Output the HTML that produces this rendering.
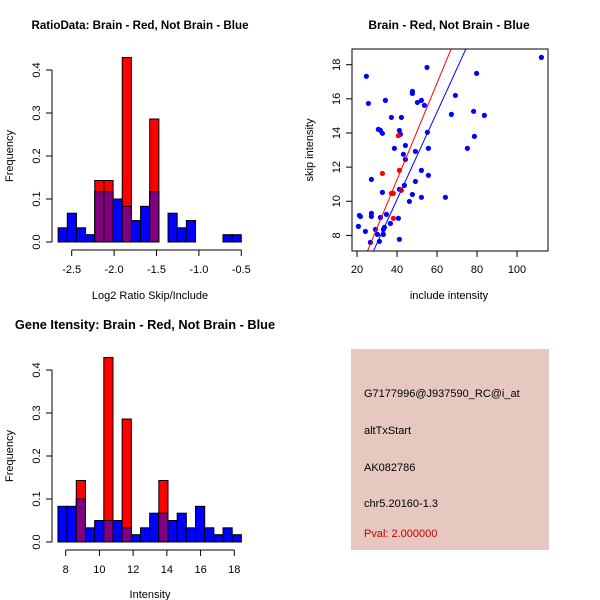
<!DOCTYPE html>
<html><head><meta charset="utf-8"><style>
body{margin:0;background:#fff;}
svg{display:block;font-family:"Liberation Sans",sans-serif;}
</style></head><body>
<svg id="c" width="600" height="600" xmlns="http://www.w3.org/2000/svg">
<rect width="600" height="600" fill="#fff"/>
<text x="140" y="29" font-size="11.6" font-weight="bold" text-anchor="middle">RatioData: Brain - Red, Not Brain - Blue</text>
<text x="449" y="29" font-size="12" font-weight="bold" text-anchor="middle">Brain - Red, Not Brain - Blue</text>
<text x="150" y="299" font-size="11" text-anchor="middle">Log2 Ratio Skip/Include</text>
<text x="449" y="299" font-size="11" text-anchor="middle">include intensity</text>
<text x="145" y="329" font-size="12.8" font-weight="bold" text-anchor="middle">Gene Itensity: Brain - Red, Not Brain - Blue</text>
<text x="150" y="598" font-size="11" text-anchor="middle">Intensity</text>
<text transform="translate(13,156) rotate(-90)" font-size="11" text-anchor="middle">Frequency</text>
<text transform="translate(13,456) rotate(-90)" font-size="11" text-anchor="middle">Frequency</text>
<text transform="translate(313,150) rotate(-90)" font-size="11" text-anchor="middle">skip intensity</text>
<g>
<rect x="351" y="349" width="198" height="201" fill="#e6c8c0"/>
<text x="364" y="397" font-size="11">G7177996@J937590_RC@i_at</text>
<text x="364" y="434" font-size="11">altTxStart</text>
<text x="364" y="471" font-size="11">AK082786</text>
<text x="364" y="507" font-size="11">chr5.20160-1.3</text>
<text x="364" y="537" font-size="11" fill="#c00000">Pval: 2.000000</text>
</g>
</svg>
<script>
const ratioBlue=[0.033,0.067,0.033,0.017,0.117,0.117,0.1,0.083,0.05,0.083,0.117,0,0.067,0.033,0.05,0,0,0,0.017,0.017];
const ratioRed=[0,0,0,0,0.143,0.143,0,0.429,0,0,0.286,0,0,0,0,0,0,0,0,0];
const ratioTicks=[-2.5,-2.0,-1.5,-1.0,-0.5];
const intBlue=[0.083,0.083,0.1,0.033,0.05,0.05,0.05,0.033,0.017,0.033,0.067,0.067,0.05,0.067,0.033,0.083,0.033,0.017,0.033,0.017];
const intRed=[0,0,0.143,0,0,0.429,0,0.286,0,0,0,0.143,0,0,0,0,0,0,0,0];
const intTicks=[8,10,12,14,16,18];
const freqTicks=[0,0.1,0.2,0.3,0.4];
const blueX=[112.2,55,24.7,79.8,25.7,34.2,47.7,47.7,50.2,52.2,53.7,69.2,67.2,78.3,83.7,37.2,42.2,30.7,31.7,32.7,41.2,41.7,55.2,78.7,38.7,44.2,43.2,49.2,55.7,75.2,44.2,52.2,55.7,27.2,49.2,43.7,41.2,32.7,47.7,52.2,64.2,46.2,21.2,21.7,27.2,27.2,31.7,34.7,40.7,36.7,33.7,33.2,29.2,20.7,24.2,30.2,33.2,31.2,26.7,41.2];
const blueY=[18.43,17.84,17.32,17.49,15.73,15.91,16.44,16.32,15.79,15.91,15.62,16.2,15.09,15.27,15.03,14.91,14.91,14.21,14.15,13.98,14.15,13.92,14.04,13.8,13.1,13.27,12.75,12.92,13.1,13.1,12.45,11.81,11.52,11.28,11.16,10.93,10.7,10.52,10.4,10.23,10.23,9.99,9.17,9.11,9.29,9.11,9.05,9.23,9.0,8.7,8.47,8.35,8.35,8.53,8.23,8.06,8.06,7.65,7.59,7.77];
const redX=[40.7,32.7,41.2,37.2,38.2,42.2,38.2];
const redY=[13.84,11.63,11.81,10.46,10.46,10.64,9.0];
const redFit=[-0.06,0.283];
const blueFit=[-0.14,0.256];
const scXTicks=[20,40,60,80,100];
const scYTicks=[8,10,12,14,16,18];

const svg=document.getElementById('c');
const NS='http://www.w3.org/2000/svg';
function mk(tag,at,parent){const e=document.createElementNS(NS,tag);for(const k in at)e.setAttribute(k,at[k]);(parent||svg).appendChild(e);return e;}

function hist(blue,red,ticks,dy,x0,pxPerUnit,tickVal0,binStart,binW,prefix){
  const g=mk('g',{});
  
  
  const y0=242+dy, yS=430;
  const yv=v=>y0-v*yS;
  const xv=v=>x0+(v-tickVal0)*pxPerUnit;
  for(let i=0;i<blue.length;i++){
    const xa=xv(binStart+i*binW), xb=xv(binStart+(i+1)*binW);
    if(blue[i]>0){const r=mk('rect',{x:xa,y:yv(blue[i]),width:xb-xa,height:blue[i]*yS,fill:'#0000ff',stroke:'#000','stroke-width':1},g);
      
      }
    if(red[i]>0){const r=mk('rect',{x:xa,y:yv(red[i]),width:xb-xa,height:red[i]*yS,fill:'#ff0000',stroke:'#000','stroke-width':1},g);
      
      
      const m=Math.min(red[i],blue[i]);
      if(m>0){const p=mk('rect',{x:xa,y:yv(m),width:xb-xa,height:m*yS,fill:'#800080',stroke:'#000','stroke-width':1},g);
        
        }}
  }
  const ya=mk('g',{},g);
  
  
  mk('line',{x1:52,x2:52,y1:yv(0),y2:yv(0.4),stroke:'#000'},ya);
  freqTicks.forEach(t=>{mk('line',{x1:46,x2:52,y1:yv(t),y2:yv(t),stroke:'#000'},ya);
    const tx=mk('text',{transform:`translate(40,${yv(t)}) rotate(-90)`,'font-size':11,'text-anchor':'middle'},ya);tx.textContent=t.toFixed(1);});
  const xa=mk('g',{},g);
  
  
  mk('line',{x1:xv(ticks[0]),x2:xv(ticks[ticks.length-1]),y1:y0+8,y2:y0+8,stroke:'#000'},xa);
  ticks.forEach(t=>{mk('line',{x1:xv(t),x2:xv(t),y1:y0+8,y2:y0+14,stroke:'#000'},xa);
    const tx=mk('text',{x:xv(t),y:y0+31,'font-size':11,'text-anchor':'middle'},xa);tx.textContent=(prefix==='ratio'?t.toFixed(1):t);});
}
hist(ratioBlue,ratioRed,ratioTicks,0,71.7,84.8,-2.5,-2.66,0.108,'ratio');
hist(intBlue,intRed,intTicks,300,65.7,16.86,8,7.54,0.544,'intensity');

const L=352,R=548,T=49,B=251;
const sx=v=>357+(v-20)*2, sy=v=>64.7+(18-v)*17.07;
const sg=mk('g',{});


const cp=mk('clipPath',{id:'clip'},sg);mk('rect',{x:L,y:T,width:R-L,height:B-T},cp);
blueX.forEach((x,i)=>{const c=mk('circle',{cx:sx(x),cy:sy(blueY[i]),r:2.6,fill:'#0000ff'},sg);
  
  });
redX.forEach((x,i)=>{const c=mk('circle',{cx:sx(x),cy:sy(redY[i]),r:2.6,fill:'#ff0000'},sg);
  
  });
[[redFit,'#ff0000','red-fit-line'],[blueFit,'#0000ff','blue-fit-line']].forEach(([f,col,nm])=>{
  const xa=0,xb=120;
  const l=mk('line',{x1:sx(xa),y1:sy(f[0]+f[1]*xa),x2:sx(xb),y2:sy(f[0]+f[1]*xb),stroke:col,'stroke-width':1,'clip-path':'url(#clip)'},sg);
  
  });
mk('rect',{x:L,y:T,width:R-L,height:B-T,fill:'none',stroke:'#000'},sg);
scXTicks.forEach(t=>{mk('line',{x1:sx(t),x2:sx(t),y1:B,y2:B+6,stroke:'#000'},sg);
  const tx=mk('text',{x:sx(t),y:B+22,'font-size':11,'text-anchor':'middle'},sg);tx.textContent=t;});
scYTicks.forEach(t=>{mk('line',{x1:L-6,x2:L,y1:sy(t),y2:sy(t),stroke:'#000'},sg);
  const tx=mk('text',{transform:`translate(340,${sy(t)}) rotate(-90)`,'font-size':11,'text-anchor':'middle'},sg);tx.textContent=t;});
</script>
</body></html>
